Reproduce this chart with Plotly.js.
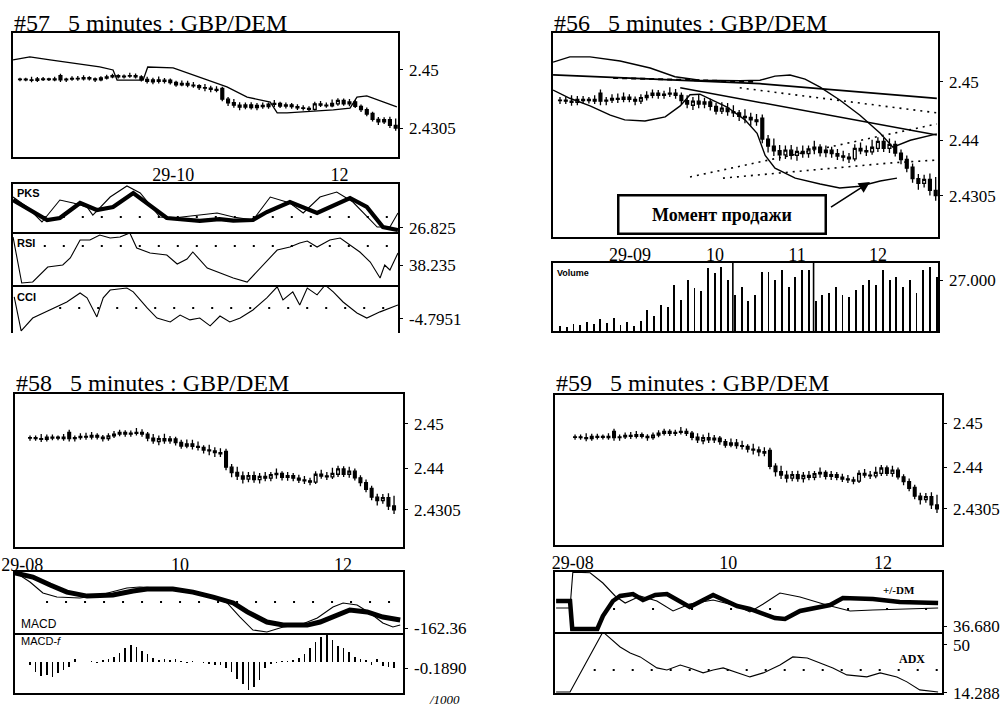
<!DOCTYPE html>
<html><head><meta charset="utf-8">
<script src="https://cdn.plot.ly/plotly-3.0.1.min.js"></script>
<style>html,body{margin:0;padding:0;background:#fff}#chart{width:1002px;height:707px}</style>
</head><body><div id="chart"></div>
<script>
// ---------- DATA ----------
// 5-minute GBP/DEM candles (shared by the four charts)
const candleOpen  = [2.4468,2.4469,2.4467,2.4465,2.4470,2.4468,2.4470,2.4481,2.4467,2.4469,2.4472,2.4470,2.4474,2.4470,2.4467,2.4473,2.4477,2.4481,2.4477,2.4479,2.4481,2.4477,2.4468,2.4460,2.4467,2.4462,2.4466,2.4458,2.4450,2.4455,2.4449,2.4447,2.4441,2.4439,2.4435,2.4438,2.4402,2.4390,2.4382,2.4375,2.4383,2.4374,2.4381,2.4377,2.4385,2.4388,2.4379,2.4383,2.4377,2.4373,2.4371,2.4368,2.4386,2.4382,2.4380,2.4386,2.4398,2.4386,2.4393,2.4378,2.4367,2.4354,2.4334,2.4326,2.4333,2.4314];
const candleHigh  = [2.4474,2.4474,2.4477,2.4476,2.4476,2.4474,2.4477,2.4487,2.4474,2.4479,2.4480,2.4482,2.4479,2.4475,2.4479,2.4484,2.4487,2.4486,2.4485,2.4491,2.4488,2.4482,2.4477,2.4474,2.4478,2.4473,2.4471,2.4464,2.4465,2.4464,2.4460,2.4452,2.4453,2.4447,2.4445,2.4444,2.4409,2.4403,2.4392,2.4391,2.4392,2.4389,2.4391,2.4391,2.4399,2.4393,2.4391,2.4389,2.4385,2.4382,2.4378,2.4393,2.4396,2.4391,2.4401,2.4405,2.4404,2.4403,2.4399,2.4384,2.4374,2.4360,2.4342,2.4341,2.4343,2.4337];
const candleLow   = [2.4462,2.4462,2.4459,2.4460,2.4463,2.4463,2.4462,2.4460,2.4460,2.4464,2.4464,2.4465,2.4465,2.4460,2.4462,2.4468,2.4472,2.4471,2.4471,2.4474,2.4471,2.4461,2.4455,2.4452,2.4455,2.4455,2.4451,2.4444,2.4445,2.4442,2.4440,2.4433,2.4429,2.4425,2.4425,2.4395,2.4379,2.4373,2.4365,2.4368,2.4367,2.4365,2.4370,2.4370,2.4376,2.4372,2.4371,2.4370,2.4366,2.4364,2.4361,2.4364,2.4376,2.4373,2.4375,2.4380,2.4380,2.4378,2.4372,2.4359,2.4345,2.4327,2.4315,2.4319,2.4305,2.4296];
const candleClose = [2.4469,2.4467,2.4465,2.4470,2.4468,2.4470,2.4467,2.4467,2.4469,2.4472,2.4470,2.4474,2.4470,2.4467,2.4473,2.4477,2.4481,2.4477,2.4479,2.4481,2.4477,2.4468,2.4462,2.4467,2.4462,2.4466,2.4458,2.4450,2.4455,2.4449,2.4447,2.4441,2.4439,2.4435,2.4432,2.4402,2.4390,2.4382,2.4375,2.4383,2.4374,2.4381,2.4377,2.4385,2.4388,2.4379,2.4383,2.4377,2.4373,2.4371,2.4368,2.4386,2.4382,2.4380,2.4388,2.4398,2.4386,2.4393,2.4378,2.4367,2.4352,2.4334,2.4326,2.4333,2.4314,2.4305];

// #57 overlay line on price
const env57X = [-1.2,1.7,5.2,13.8,16.1,16.8,21.3,22.1,26.5,31.1,35.8,39.3,41.5,43.3,44.5,46.2,54.2,57.1,58.3,60.0,65.2];
const env57Y = [2.4534,2.4544,2.4534,2.4510,2.4500,2.4466,2.4466,2.4510,2.4507,2.4476,2.4443,2.4409,2.4399,2.4392,2.4356,2.4356,2.4366,2.4372,2.4409,2.4413,2.4376];
// #57 PKS
const pksSlowX = [-1.2,1.7,4.7,6.9,10.4,13.3,16.1,19.6,22.0,25.4,31.1,34.5,36.9,40.3,42.7,46.7,51.4,57.1,60.0,62.8,65.4];
const pksSlowY = [73.3,56.7,40,43.3,68.3,56.7,61.7,85,68.3,43.3,38.5,41.5,39,40,53.3,70,51.7,76.7,61.7,28.3,23.3];
const pksFastX = [-1.2,1.2,3.8,6.9,9.2,11.6,12.6,15.6,18.5,20.8,24.2,26.5,34.1,36.9,40.3,43.3,46.7,49.0,51.9,54.8,57.6,61.8,64.0,65.4];
const pksFastY = [78.3,61.7,36.7,73.3,68.3,61.7,48.3,78.3,96.7,85,45,43.3,51.7,45,40,78.3,68.3,51.7,78.3,86.7,70,28.3,28.3,51.7];
// #57 RSI
const rsiX = [-1.2,0.3,2.2,4.0,4.8,7.4,8.7,10.4,12.1,13.8,15.6,17.3,19.0,20.2,22.5,25.4,27.2,28.9,29.9,32.4,34.1,36.9,39.3,40.3,42.7,44.5,46.7,48.4,49.7,51.4,53.6,55.4,58.8,60.6,62.3,63.1,64.0,65.4];
const rsiY = [85.0,8.1,9.8,26.5,34.9,38.2,49.9,80.0,80.0,88.4,83.4,85.1,91.7,66.7,58.3,55.0,39.9,48.3,60.0,33.2,26.5,16.5,9.8,19.8,44.9,63.3,68.3,75.0,78.4,68.3,80.0,83.4,60.0,43.2,16.5,38.2,29.9,58.3];
// #57 CCI
const cciX = [-1.0,0.2,2.2,5.2,8.1,10.4,11.6,13.3,14.4,15.6,18.5,19.6,22.0,23.7,26.0,27.7,29.4,31.1,32.9,34.6,36.3,38.1,40.3,42.7,44.5,45.5,47.2,48.4,49.7,51.4,52.8,54.2,55.9,58.3,60.0,62.3,65.4];
const cciY = [4.8,-10.0,-4.4,-0.9,2.6,6.5,4.4,-3.9,4.4,7.8,8.7,7.0,0,-4.4,-6.1,-3.1,-5.2,-4.4,-7.8,-3.5,-6.1,-4.4,-0.9,4.4,9.2,3.5,7.0,1.3,8.7,5.7,10.0,7.0,2.6,-2.2,-4.4,-1.7,1.3];

// #56 overlays
const bandUpX = [-1.2,1.7,5.2,10.4,15.6,19.9,24.2,31.1,34.6,37.2,39.8,42.4,45.0,48.4,51.9,55.4,57.6,60.6,65.2];
const bandUpY = [2.4534,2.4543,2.4543,2.4536,2.4524,2.4509,2.4503,2.4502,2.4503,2.4510,2.4512,2.4505,2.4491,2.4469,2.4443,2.4412,2.4388,2.4400,2.4411];
const maLongX = [-1.2,20.8,34.6,65.2];
const maLongY = [2.4512,2.4502,2.4497,2.4472];
const trendDownX = [20.8,65.2];
const trendDownY = [2.4490,2.4409];
const bandLowX = [-1.2,1.7,5.2,8.7,11.2,14.7,18.2,20.8,22.5,24.2,28.9,32.0,34.1,35.5,37.2,40.7,45.0,48.4,51.9,55.4,58.3];
const bandLowY = [2.4486,2.4472,2.4459,2.4443,2.4435,2.4433,2.4440,2.4459,2.4478,2.4479,2.4457,2.4435,2.4412,2.4374,2.4352,2.4335,2.4325,2.4318,2.4321,2.4330,2.4335];
const dotUpperX = [31.1,65.2], dotUpperY = [2.4490,2.4447];
const dotTopX = [9.2,34.1], dotTopY = [2.4507,2.4500];
const dotRiseX = [22.5,65.2], dotRiseY = [2.4337,2.4428];
const dotFlatX = [28.2,57.1,65.2], dotFlatY = [2.4335,2.4361,2.4366];
// #56 volume
const volume = [2650,2120,3700,3180,4760,3700,6350,4230,6880,3180,4760,2650,5290,11100,7940,13800,12700,24300,16400,27000,22800,21200,33300,30700,33900,27000,19100,23300,15900,19100,31200,31200,27000,32300,23300,28600,32300,32300,15900,19100,20100,23300,19100,18000,21700,24300,27000,24300,32300,27000,28600,23300,27000,20100,32300,33900,28600];
const hourBreaks56 = [25.7,37.7];

// #58 MACD
const macdSigX = [-2.7,0.5,3.6,6.6,10.2,14.8,18.4,20.9,25.5,29.1,32.7,36.3,38.8,42.3,45.2,49.5,51.8,54.1,57.1,60.2,63.0,66.1];
const macdSigY = [181,156,106,62,37,44,69,81,81,62,31,-6,-62,-125,-144,-144,-125,-94,-50,-62,-94,-112];
const macdX = [-2.7,0,2.3,4.8,8.9,12.5,17.3,19.6,23.2,28.0,31.6,35.2,37.5,39.8,42.3,45.2,48.2,51.3,54.1,55.9,58.4,60.7,63.0,64.8,66.1];
const macdY = [187,125,56,31,25,44,87,94,87,75,44,-6,-94,-175,-187,-156,-144,-100,-31,-6,-19,-69,-131,-156,-144];
const macdHist = [-0.09,-0.32,-0.44,-0.41,-0.47,-0.35,-0.25,-0.16,0.09,0,0,0.03,-0.03,0.06,0.09,0.16,0.28,0.44,0.54,0.47,0.35,0.25,0.13,0.06,0.09,0.06,0.09,0.03,-0.03,0.03,0,-0.03,-0.06,-0.09,-0.09,-0.19,-0.32,-0.54,-0.69,-0.88,-0.79,-0.57,-0.19,-0.06,-0.03,0.03,0.03,0.06,0.13,0.25,0.44,0.63,0.79,0.91,0.69,0.50,0.44,0.32,0.16,0.09,0.06,-0.09,0.09,-0.13,-0.16,-0.189];

// #59 DMI / ADX
const dmThickX = [-3.4,-0.9,-0.5,4.0,5.0,6.8,8.1,10.4,12.2,14.4,16.5,20.6,24.8,29.1,31.4,35.9,37.7,40.4,45.8,48.1,53.5,58.3,65.2];
const dmThickY = [46.68,46.68,35.48,35.48,40.68,46.68,48.68,49.48,47.08,49.08,49.48,44.28,49.08,44.68,43.48,39.88,39.48,42.68,45.08,47.88,47.48,46.28,45.88];
const dmThinX = [-3.4,-0.9,-0.4,2.7,5.0,7.2,9.0,11.7,14.7,17.6,20.6,24.8,29.1,31.4,33.8,36.8,40.4,45.2,49.4,53.5,65.2];
const dmThinY = [43.88,43.88,58.2,58.0,53.88,48.68,45.88,48.68,46.68,42.68,45.48,47.08,44.68,42.28,45.48,49.88,48.28,45.08,42.68,43.08,43.88];
const adxX = [-3.4,-0.9,5.0,8.1,9.9,11.7,14.7,16.5,18.9,20.6,23.0,24.8,26.6,29.1,31.4,33.8,36.8,39.1,41.7,44.0,46.3,48.8,52.4,54.8,57.8,59.6,61.9,65.2];
const adxY = [15.0,15.0,59.7,48.5,44.0,41.1,32.9,31.4,35.1,32.9,29.2,31.4,32.9,29.2,26.2,29.2,35.1,41.1,40.3,36.6,32.9,27.7,26.2,29.2,26.2,22.5,16.5,15.0];

// Tick labels
const ticks57 = [26.5,55.3], tickText57 = ['29-10','12'];
const ticks56 = [12.1,26.8,41.0,55.0], tickText56 = ['29-09','10','11','12'];
const ticks58 = [-1.4,26.8,55.9], tickText58 = ['29-08','10','12'];
const ticks59 = [-0.4,27.5,55.3], tickText59 = ['29-08','10','12'];

// ---------- LAYOUT HELPERS ----------
const W = 1002, H = 707;
const PX = x => x / W, PY = y => 1 - y / H;
const SERIF = 'Liberation Serif, Times New Roman, serif';
const SANS = 'Liberation Sans, Arial, sans-serif';
const slot = candleOpen.map((_, i) => i);

function xa(l, r, range, anchor, tv, tt, lineMode) {
  const a = {domain:[PX(l), PX(r)], range:range, anchor:anchor, showgrid:false, zeroline:false,
    showline:lineMode !== 'none', mirror:lineMode !== 'bottom',
    linecolor:'#000', linewidth:1.6, ticks:'', fixedrange:true, rangeslider:{visible:false},
    showticklabels:!!tv, tickfont:{family:SERIF, size:18, color:'#000'}};
  if (tv) { a.tickmode='array'; a.tickvals=tv; a.ticktext=tt; a.ticklabelstandoff = 1; }
  return a;
}
function ya(t, b, range, anchor, tv, tt) {
  const a = {domain:[PY(b), PY(t)], range:range, anchor:anchor, showgrid:false, zeroline:false, showline:true, mirror:true,
    linecolor:'#000', linewidth:1.6, side:'right', fixedrange:true,
    tickfont:{family:SERIF, size:17, color:'#000'}};
  if (tv) { a.tickmode='array'; a.tickvals=tv; a.ticktext=tt; a.ticks='outside'; a.ticklen=3; a.tickcolor='#000'; a.ticklabelstandoff=3; }
  else { a.showticklabels=false; a.ticks=''; }
  return a;
}

const candle = (xaxis, yaxis) => ({type:'candlestick', x:slot, open:candleOpen, high:candleHigh, low:candleLow, close:candleClose,
  xaxis:xaxis, yaxis:yaxis, whiskerwidth:0,
  increasing:{line:{color:'#000', width:1.3}, fillcolor:'#fff'},
  decreasing:{line:{color:'#000', width:1.3}, fillcolor:'#000'}, hoverinfo:'skip'});
const line = (x, y, xaxis, yaxis, w, dash) => ({type:'scatter', mode:'lines', x:x, y:y, xaxis:xaxis, yaxis:yaxis,
  line:{color:'#000', width:w, dash:dash||'solid'}, hoverinfo:'skip'});

const data = [
  // #57
  candle('x','y'),
  line(env57X, env57Y, 'x','y', 1.3),
  line(pksFastX, pksFastY, 'x2','y2', 1.1),
  line(pksSlowX, pksSlowY, 'x2','y2', 4.2),
  line(rsiX, rsiY, 'x3','y3', 1.1),
  line(cciX, cciY, 'x4','y4', 1.1),
  // #56
  line(bandUpX, bandUpY, 'x5','y5', 1.4),
  line(maLongX, maLongY, 'x5','y5', 1.8),
  line(trendDownX, trendDownY, 'x5','y5', 1.4),
  line(bandLowX, bandLowY, 'x5','y5', 1.4),
  line(dotUpperX, dotUpperY, 'x5','y5', 1.6, '2px,5px'),
  line(dotTopX, dotTopY, 'x5','y5', 2, '5px,4px'),
  line(dotRiseX, dotRiseY, 'x5','y5', 1.6, '2px,5px'),
  line(dotFlatX, dotFlatY, 'x5','y5', 1.6, '2px,5px'),
  candle('x5','y5'),
  {type:'bar', x:volume.map((_, i) => i), y:volume, xaxis:'x6', yaxis:'y6', width:0.28,
    marker:{color:'#000', line:{width:0}}, hoverinfo:'skip'},
  // #58
  candle('x7','y7'),
  line(macdX, macdY, 'x8','y8', 1.1),
  line(macdSigX, macdSigY, 'x8','y8', 5),
  {type:'bar', x:slot, y:macdHist, xaxis:'x9', yaxis:'y9', width:0.28, marker:{color:'#000', line:{width:0}}, hoverinfo:'skip'},
  // #59
  candle('x10','y10'),
  line(dmThinX, dmThinY, 'x11','y11', 1.1),
  line(dmThickX, dmThickY, 'x11','y11', 4.5),
  line(adxX, adxY, 'x12','y12', 1.1)
];

const R57 = [-1.21, 65.4], R56 = [-1.21, 65.4], R58 = [-2.68, 66.6], R59 = [-3.6, 65.9];
const dotted = (ax, x0, y, gap) => ({type:'line', xref:ax.replace('y','x') + ' domain', x0:x0, x1:1, yref:ax, y0:y, y1:y,
  line:{color:'#000', width:2, dash:'2px,' + (gap || 17) + 'px'}});
const title = (txt, x, y) => ({text:txt, xref:'paper', yref:'paper', x:PX(x), y:PY(y), xanchor:'left', yanchor:'middle',
  showarrow:false, font:{family:SERIF, size:24, color:'#000'}});
const lbl = (txt, x, y, size, fam, anchor) => ({text:txt, xref:'paper', yref:'paper', x:PX(x), y:PY(y), xanchor:anchor || 'left',
  yanchor:'middle', showarrow:false, font:{family:fam, size:size, color:'#000'}});

const layout = {
  width:W, height:H, margin:{l:0, r:0, t:0, b:0}, paper_bgcolor:'#fff', plot_bgcolor:'rgba(0,0,0,0)',
  showlegend:false, boxgap:0.3, bargap:0,
  // #57
  xaxis:  xa(13,398,R57,'y',ticks57,tickText57),
  yaxis:  ya(33,157,[2.4208,2.4624],'x',[2.45,2.4305],['2.45','2.4305']),
  xaxis2: xa(13,398,R57,'y2'), yaxis2: ya(184,232,[20,100],'x2',[26.825],['26.825']),
  xaxis3: xa(13,398,R57,'y3',null,null,'bottom'), yaxis3: ya(232,285,[4.8,93.4],'x3',[38.235],['38.235']),
  xaxis4: xa(13,398,R57,'y4',null,null,'none'), yaxis4: ya(285,333,[-10.9,10.0],'x4',[-4.7951],['-4.7951']),
  // #56
  xaxis5: xa(553,938,R56,'y5',ticks56,tickText56),
  yaxis5: ya(33,237,[2.4234,2.4584],'x5',[2.45,2.44,2.4305],['2.45','2.44','2.4305']),
  xaxis6: xa(553,938,[-1.04,56.2],'y6'), yaxis6: ya(263,331,[0,36000],'x6',[27000],['27.000']),
  // #58
  xaxis7: xa(15,403,R58,'y7',ticks58,tickText58),
  yaxis7: ya(394,547,[2.4221,2.4568],'x7',[2.45,2.44,2.4305],['2.45','2.44','2.4305']),
  xaxis8: xa(15,403,R58,'y8'), yaxis8: ya(572,633,[-193.6,187.4],'x8',[-162.36],['-162.36']),
  xaxis9: xa(15,403,R58,'y9',null,null,'bottom'), yaxis9: ya(633,693,[-0.9765,0.9135],'x9',[-0.189],['-0.1890']),
  // #59
  xaxis10: xa(555,942,R59,'y10',ticks59,tickText59),
  yaxis10: ya(395,545,[2.4223,2.4564],'x10',[2.45,2.44,2.4305],['2.45','2.44','2.4305']),
  xaxis11: xa(555,942,R59,'y11'), yaxis11: ya(572,632,[34.28,58.28],'x11',[36.68],['36.680']),
  xaxis12: xa(555,942,R59,'y12',null,null,'bottom'), yaxis12: ya(632,693,[14.2,59.67],'x12',[50,14.288],['50','14.288']),
  shapes: [
    dotted('y2', 0.08, 45), dotted('y3', 0.08, 70), dotted('y4', 0.12, 0), dotted('y8', 0.08, 0),
    dotted('y11', 0.15, 43.48, 37), dotted('y12', 0.1, 31.4),
    {type:'line', xref:'x6', x0:hourBreaks56[0], x1:hourBreaks56[0], yref:'y6 domain', y0:0, y1:1, line:{color:'#000', width:1.6}},
    {type:'line', xref:'x6', x0:hourBreaks56[1], x1:hourBreaks56[1], yref:'y6 domain', y0:0, y1:1, line:{color:'#000', width:1.6}}
  ],
  annotations: [
    title('#57   5 minutes : GBP/DEM', 12, 23), title('#56   5 minutes : GBP/DEM', 552, 23),
    title('#58   5 minutes : GBP/DEM', 14, 383), title('#59   5 minutes : GBP/DEM', 554, 383),
    lbl('<b>PKS</b>', 15, 193, 11, SANS), lbl('<b>RSI</b>', 15, 243, 11, SANS), lbl('<b>CCI</b>', 15, 297, 11, SANS),
    lbl('<b>Volume</b>', 555, 273, 9, SANS),
    lbl('MACD', 19, 624, 12, SANS), lbl('MACD-<i>f</i>', 19, 641, 11, SANS),
    lbl('<i>/1000</i>', 427, 699, 13, SERIF),
    lbl('<b>+/-DM</b>', 917, 590, 11, SERIF, 'right'), lbl('<b>ADX</b>', 927, 659, 12, SERIF, 'right'),
    {text:'<b>Момент продажи</b>', xref:'paper', yref:'paper', x:PX(722), y:PY(215), xanchor:'center', yanchor:'middle', showarrow:false,
      width:203, height:34, borderpad:1, bordercolor:'#000', borderwidth:2.5, bgcolor:'#fff', font:{family:SERIF, size:18, color:'#000'}},
    {text:' ', xref:'paper', yref:'paper', x:PX(870), y:PY(182), ax:-42, ay:27, showarrow:true, arrowhead:2, arrowsize:1.4, arrowwidth:1.6, arrowcolor:'#000'}
  ]
};

Plotly.newPlot('chart', data, layout, {staticPlot:true, displayModeBar:false});
</script></body></html>
